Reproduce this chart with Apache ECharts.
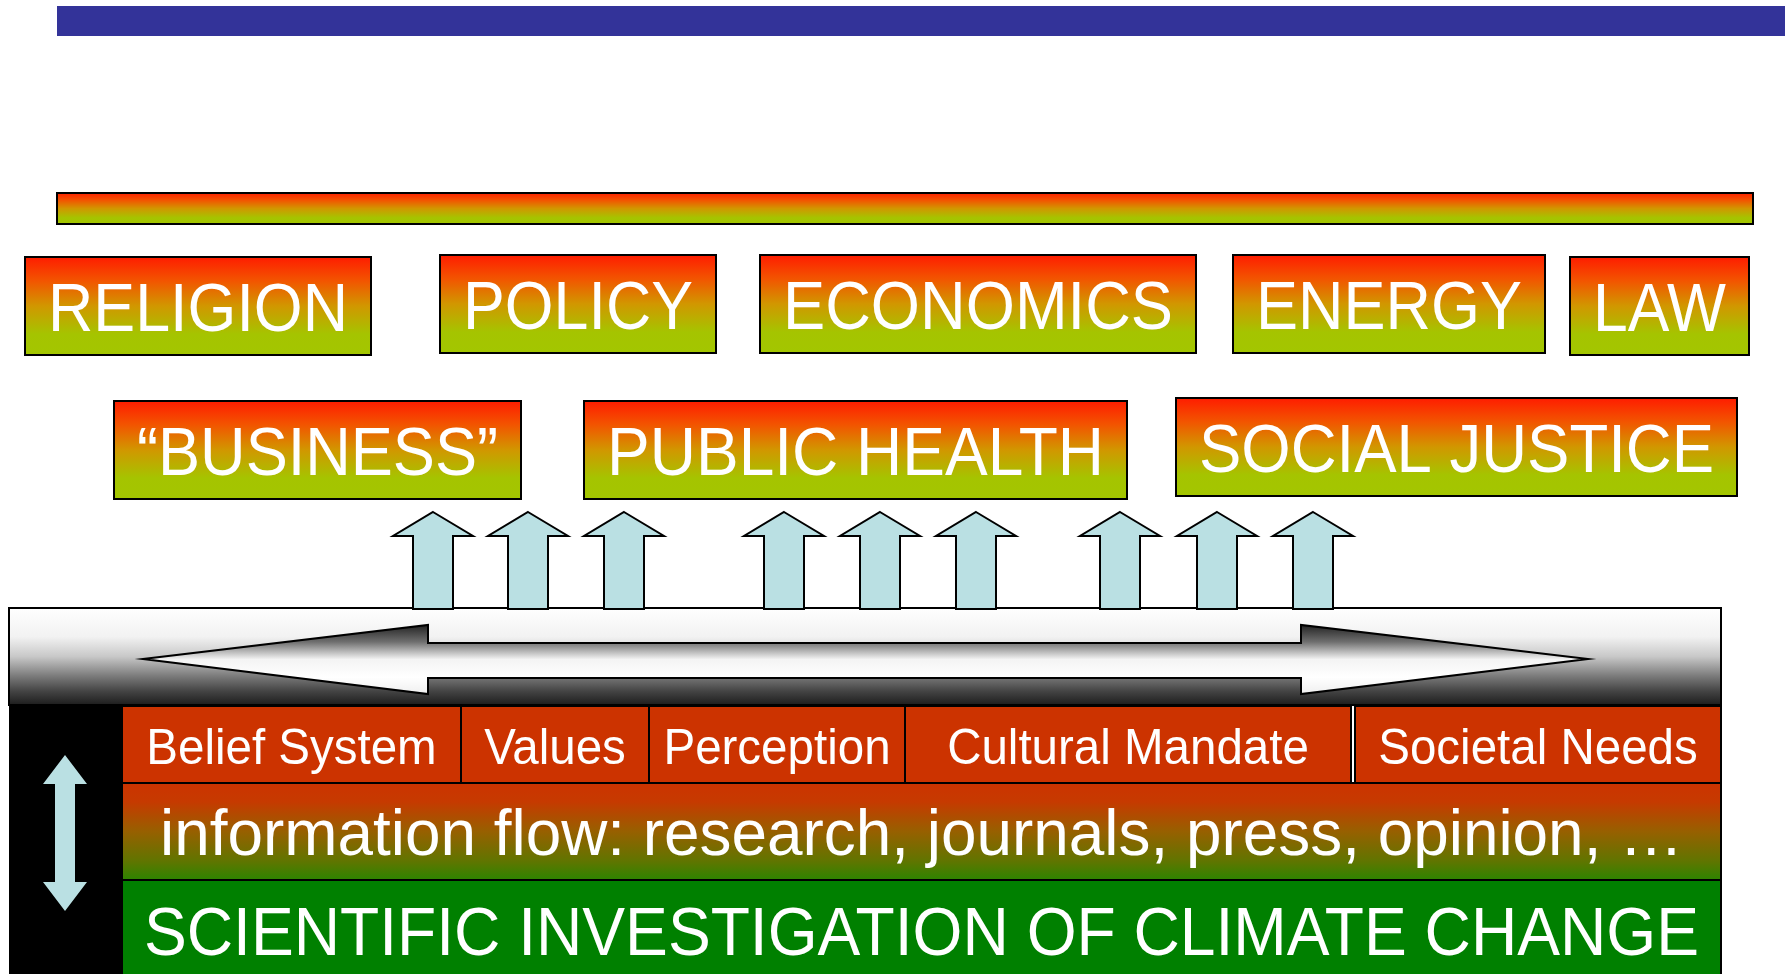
<!DOCTYPE html>
<html>
<head>
<meta charset="utf-8">
<title>Scientific investigation of climate change</title>
<script src="https://cdn.jsdelivr.net/npm/echarts@6/dist/echarts.min.js"></script>
<style>
    html, body { margin: 0; padding: 0; background: #fff; }
    #main { width: 1785px; height: 974px; }
</style>
</head>
<body>
<div id="main"></div>
<script>
// texts of the diagram
var topicsTop = ['RELIGION', 'POLICY', 'ECONOMICS', 'ENERGY', 'LAW'];
var topicsMid = ['\u201CBUSINESS\u201D', 'PUBLIC HEALTH', 'SOCIAL JUSTICE'];
var factors = ['Belief System', 'Values', 'Perception', 'Cultural Mandate', 'Societal Needs'];
var flowLabel = 'information flow: research, journals, press, opinion, \u2026';
var baseLabel = 'SCIENTIFIC INVESTIGATION OF CLIMATE CHANGE';

// layout (page pixels, the hidden axes run 0..W and 0..H)
var W = 1785, H = 974;
var topBoxes = [[25, 257, 371, 355], [440, 255, 716, 353], [760, 255, 1196, 353], [1233, 255, 1545, 353], [1570, 257, 1749, 355]];
var midBoxes = [[114, 401, 521, 499], [584, 401, 1127, 499], [1176, 398, 1737, 496]];
var arrowX = [433, 528, 624, 784, 880, 976, 1120, 1217, 1313];
var factorCells = [[122, 461], [461, 649], [649, 905], [905, 1351], [1355, 1721]];

var FONT = '"Liberation Sans", Arial, Helvetica, sans-serif';
var ARROW_BLUE = '#BAE0E3';

var ctx = document.createElement('canvas').getContext('2d');
function measure(str, size) {
    ctx.font = size + 'px ' + FONT;
    return ctx.measureText(str).width;
}

function pt(api, x, y) { return api.coord([x, y]); }
function box(api, b) {
    var a = pt(api, b[0], b[1]), c = pt(api, b[2], b[3]);
    return { x: a[0], y: a[1], width: c[0] - a[0], height: c[1] - a[1] };
}
function poly(api, pts) {
    return pts.map(function (p) { return pt(api, p[0], p[1]); });
}
function grad(stops) {
    return new echarts.graphic.LinearGradient(0, 0, 0, 1, stops.map(function (s) {
        return { offset: s[0], color: s[1] };
    }));
}
function label(text, cx, cy, size, sx) {
    return {
        type: 'text', x: cx, y: cy, scaleX: sx,
        style: { text: text, fill: '#fff', fontSize: size, fontFamily: FONT, align: 'center', verticalAlign: 'middle' }
    };
}
function topicGrad() {
    return grad([[0, '#FF1A00'], [0.25, '#F25500'], [0.5, '#D19700'], [0.78, '#A5C400'], [1, '#A3C600']]);
}

// boxes sized around the text: text width = box width - inset
function topicRender(names, boxes) {
    return function (params, api) {
        var i = params.dataIndex;
        var s = box(api, boxes[i]);
        var size = 68;
        var sx = (s.width - 46) / measure(names[i], size);
        return {
            type: 'group',
            children: [
                { type: 'rect', shape: s, style: { fill: topicGrad(), stroke: '#000', lineWidth: 2 } },
                label(names[i], s.x + s.width / 2, s.y + s.height / 2 + 6, size, sx)
            ]
        };
    };
}

var series = [
    {   // header bar
        type: 'custom', data: [[0, 0]], z: 1,
        renderItem: function (params, api) {
            return { type: 'rect', shape: box(api, [57, 6, 1785, 36]), style: { fill: '#333399' } };
        }
    },
    {   // gradient band
        type: 'custom', data: [[0, 0]], z: 1,
        renderItem: function (params, api) {
            return { type: 'rect', shape: box(api, [57, 193, 1753, 224]), style: { fill: topicGrad(), stroke: '#000', lineWidth: 2 } };
        }
    },
    {
        type: 'custom', z: 2,
        data: topicsTop.map(function (n, i) { return { name: n, value: [i, 0] }; }),
        renderItem: topicRender(topicsTop, topBoxes)
    },
    {
        type: 'custom', z: 2,
        data: topicsMid.map(function (n, i) { return { name: n, value: [i, 0] }; }),
        renderItem: topicRender(topicsMid, midBoxes)
    },
    {   // grey panel with the two-way arrow
        type: 'custom', data: [[0, 0]], z: 3,
        renderItem: function (params, api) {
            return {
                type: 'group',
                children: [
                    {
                        type: 'rect', shape: box(api, [9, 608, 1721, 705]),
                        style: {
                            fill: grad([[0, '#ffffff'], [0.3, '#f2f2f2'], [0.5, '#c8c8c8'], [0.7, '#7a7a7a'], [0.85, '#444444'], [1, '#1a1a1a']]),
                            stroke: '#000', lineWidth: 2
                        }
                    },
                    {
                        type: 'polygon',
                        shape: { points: poly(api, [[143, 659], [428, 625], [428, 643], [1301, 643], [1301, 625], [1588, 659], [1301, 694], [1301, 678], [428, 678], [428, 694]]) },
                        style: {
                            fill: grad([[0, '#1f1f1f'], [0.25, '#6e6e6e'], [0.5, '#f4f4f4'], [0.75, '#ffffff'], [1, '#eeeeee']]),
                            stroke: '#000', lineWidth: 2
                        }
                    }
                ]
            };
        }
    },
    {   // up arrows
        type: 'custom', z: 4,
        data: arrowX.map(function (x, i) { return [i, 0]; }),
        renderItem: function (params, api) {
            var c = arrowX[params.dataIndex];
            return {
                type: 'polygon',
                shape: { points: poly(api, [[c, 512], [c + 40, 536], [c + 20, 536], [c + 20, 609], [c - 20, 609], [c - 20, 536], [c - 40, 536]]) },
                style: { fill: ARROW_BLUE, stroke: '#000', lineWidth: 2, lineJoin: 'miter' }
            };
        }
    },
    {   // black column and vertical two-way arrow
        type: 'custom', data: [[0, 0]], z: 3,
        renderItem: function (params, api) {
            return {
                type: 'group',
                children: [
                    { type: 'rect', shape: box(api, [9, 705, 122, 974]), style: { fill: '#000' } },
                    {
                        type: 'polygon',
                        shape: { points: poly(api, [[65, 755], [87, 784], [75, 784], [75, 882], [87, 882], [65, 911], [43, 882], [55, 882], [55, 784], [43, 784]]) },
                        style: { fill: ARROW_BLUE }
                    }
                ]
            };
        }
    },
    {   // factor cells
        type: 'custom', z: 3,
        data: factors.map(function (n, i) { return { name: n, value: [i, 0] }; }),
        renderItem: function (params, api) {
            var i = params.dataIndex;
            var cell = factorCells[i];
            var s = box(api, [cell[0], 706, cell[1], 783]);
            return {
                type: 'group',
                children: [
                    { type: 'rect', shape: s, style: { fill: '#CC3300', stroke: '#000', lineWidth: 2 } },
                    label(factors[i], s.x + s.width / 2, s.y + s.height / 2 + 6, 50, 0.95)
                ]
            };
        }
    },
    {   // white gap between the last two cells
        type: 'custom', data: [[0, 0]], z: 3,
        renderItem: function (params, api) {
            return { type: 'rect', shape: box(api, [1352, 707, 1354, 782]), style: { fill: '#fff' } };
        }
    },
    {   // information flow row
        type: 'custom', data: [[0, 0]], z: 3,
        renderItem: function (params, api) {
            var s = box(api, [122, 783, 1721, 880]);
            var size = 64;
            return {
                type: 'group',
                children: [
                    {
                        type: 'rect', shape: s,
                        style: { fill: grad([[0, '#CC3300'], [0.2, '#C63A00'], [0.5, '#976000'], [0.8, '#607500'], [1, '#2A8500']]), stroke: '#000', lineWidth: 2 }
                    },
                    label(flowLabel, s.x + s.width / 2, s.y + s.height / 2 + 6, size, (s.width - 76) / measure(flowLabel, size))
                ]
            };
        }
    },
    {   // base row
        type: 'custom', data: [[0, 0]], z: 3,
        renderItem: function (params, api) {
            var s = box(api, [122, 880, 1721, 976]);
            var size = 68;
            return {
                type: 'group',
                children: [
                    { type: 'rect', shape: s, style: { fill: '#008000', stroke: '#000', lineWidth: 2 } },
                    label(baseLabel, s.x + s.width / 2, 929 + 7, size, (s.width - 44) / measure(baseLabel, size))
                ]
            };
        }
    }
];

var chart = echarts.init(document.getElementById('main'));
chart.setOption({
    animation: false,
    grid: { left: 0, right: 0, top: 0, bottom: 0 },
    xAxis: { type: 'value', min: 0, max: W, show: false },
    yAxis: { type: 'value', min: 0, max: H, inverse: true, show: false },
    series: series.map(function (s) { s.silent = true; return s; })
});
window.addEventListener('resize', function () { chart.resize(); });
</script>
</body>
</html>
